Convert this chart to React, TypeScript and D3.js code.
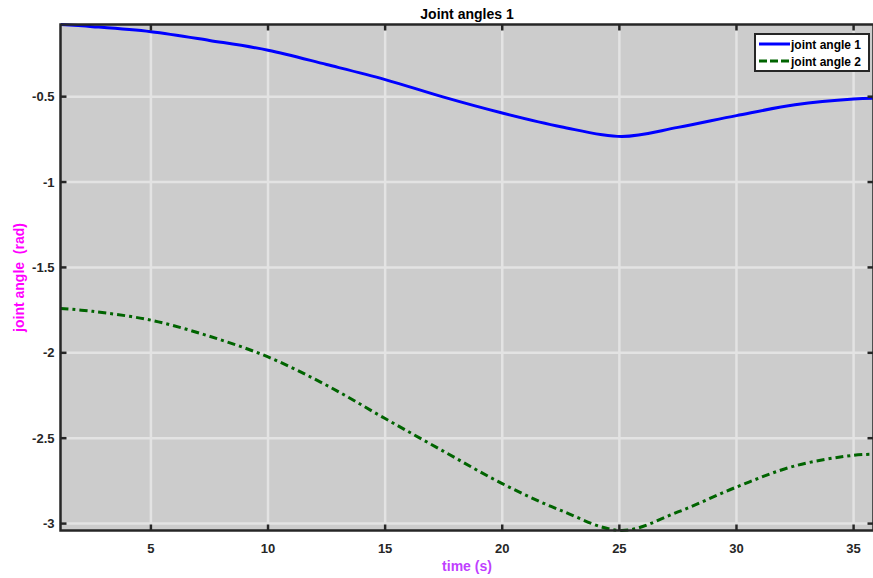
import React from "react";
import * as d3 from "d3";

const time = [1.14, 2.5, 5, 7.5, 10, 12.5, 15, 17.5, 20, 22.5, 25.1, 27.5, 30, 32.5, 35, 35.85];
const angle1 = [-0.078, -0.090, -0.120, -0.171, -0.228, -0.312, -0.400, -0.503, -0.596, -0.676, -0.733, -0.680, -0.611, -0.548, -0.514, -0.510];
const angle2 = [-1.740, -1.757, -1.809, -1.903, -2.024, -2.190, -2.385, -2.577, -2.766, -2.923, -3.040, -2.932, -2.786, -2.662, -2.600, -2.594];
const xTicks = [5, 10, 15, 20, 25, 30, 35];
const yTicks = [-3, -2.5, -2, -1.5, -1, -0.5];
const seriesNames = ["joint angle 1", "joint angle 2"];

const W = 873, H = 578;
const L = 60.5, R = 873.5, T = 24.5, B = 530.5;
const FONT = "'Liberation Sans', Arial, Helvetica, sans-serif";
const DARK = "#262626";

export default function App() {
  const x = d3.scaleLinear().domain([1.14, 35.85]).range([L, R]);
  const y = d3.scaleLinear().domain([-3.0405, -0.0775]).range([B, T]);
  const line = (vals: number[]) =>
    d3.line<number>().x((_, i) => x(time[i])).y((d) => y(d)).curve(d3.curveCatmullRom.alpha(0.5))(vals) || "";
  const tl = 6;
  return (
    <svg width={W} height={H} style={{ position: "absolute", left: 0, top: 0 }} fontFamily={FONT}>
      <rect x={0} y={0} width={W} height={H} fill="#ffffff" />
      <rect x={L} y={T} width={R - L} height={B - T} fill="#cccccc" />
      <defs>
        <clipPath id="clip">
          <rect x={L} y={T - 2} width={R - L} height={B - T + 4} />
        </clipPath>
      </defs>
      {xTicks.map((t) => (
        <line key={"gx" + t} x1={x(t)} x2={x(t)} y1={T} y2={B} stroke="#e3e3e3" strokeWidth={2.5} />
      ))}
      {yTicks.map((t) => (
        <line key={"gy" + t} x1={L} x2={R} y1={y(t)} y2={y(t)} stroke="#e3e3e3" strokeWidth={2.5} />
      ))}
      <g clipPath="url(#clip)">
        <path d={line(angle1)} fill="none" stroke="#0000ff" strokeWidth={3} />
        <path d={line(angle2)} fill="none" stroke="#006400" strokeWidth={3} strokeDasharray="8,4,3,4" />
      </g>
      <rect x={L} y={T} width={R - L} height={B - T} fill="none" stroke={DARK} strokeWidth={2.5} />
      {xTicks.map((t) => (
        <g key={"tx" + t}>
          <line x1={x(t)} x2={x(t)} y1={B} y2={B - tl} stroke={DARK} strokeWidth={2.5} />
          <line x1={x(t)} x2={x(t)} y1={T} y2={T + tl} stroke={DARK} strokeWidth={2.5} />
          <text x={x(t)} y={B + 22} textAnchor="middle" fontSize={13} fontWeight="bold" fill={DARK}>
            {t}
          </text>
        </g>
      ))}
      {yTicks.map((t) => (
        <g key={"ty" + t}>
          <line x1={L} x2={L + tl} y1={y(t)} y2={y(t)} stroke={DARK} strokeWidth={2.5} />
          <line x1={R} x2={R - tl} y1={y(t)} y2={y(t)} stroke={DARK} strokeWidth={2.5} />
          <text x={L - 6} y={y(t) + 4.5} textAnchor="end" fontSize={13} fontWeight="bold" fill={DARK}>
            {t}
          </text>
        </g>
      ))}
      <text x={(L + R) / 2} y={19} textAnchor="middle" fontSize={14} fontWeight="bold" fill="#000000">
        Joint angles 1
      </text>
      <text x={(L + R) / 2} y={571} textAnchor="middle" fontSize={14} fontWeight="bold" fill="#bf40ff">
        time (s)
      </text>
      <text
        transform={`translate(24,${(T + B) / 2}) rotate(-90)`}
        textAnchor="middle"
        fontSize={14}
        fontWeight="bold"
        fill="#ff00ff"
        style={{ whiteSpace: "pre" }}
      >
        {"joint angle  (rad)"}
      </text>
      <g>
        <rect x={755} y={34} width={114} height={37} fill="#ffffff" stroke={DARK} strokeWidth={2} />
        {seriesNames.map((n, i) => (
          <g key={n}>
            <line
              x1={759}
              x2={790}
              y1={44 + i * 17}
              y2={44 + i * 17}
              stroke={i === 0 ? "#0000ff" : "#006400"}
              strokeWidth={3}
              strokeDasharray={i === 0 ? undefined : "8,3"}
            />
            <text x={791} y={48.5 + i * 17} fontSize={12} fontWeight="bold" fill="#000000">
              {n}
            </text>
          </g>
        ))}
      </g>
    </svg>
  );
}
